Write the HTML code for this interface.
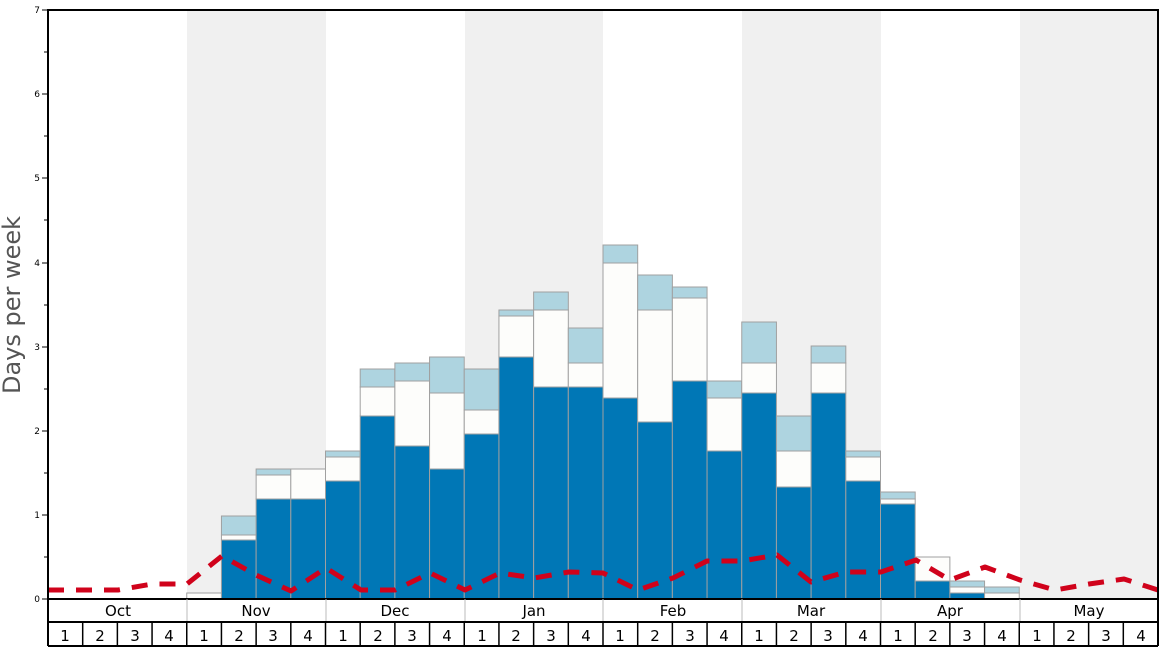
<!DOCTYPE html>
<html><head><meta charset="utf-8"><style>body{margin:0;background:#fff}svg{display:block;font-family:"DejaVu Sans","Liberation Sans",sans-serif}</style></head>
<body>
<svg id="s" width="1168" height="648" viewBox="0 0 1168 648" xmlns="http://www.w3.org/2000/svg">
<rect x="0" y="0" width="1168" height="648" fill="#fff"/>
<g fill="#f0f0f0">
<rect x="187" y="10" width="139" height="589"/><rect x="465" y="10" width="138" height="589"/>
<rect x="742" y="10" width="139" height="589"/><rect x="1020" y="10" width="138" height="589"/>
</g>
<g id="bars" stroke="#a0a0a0" stroke-width="1"></g>
<polyline fill="none" stroke="#d0021b" stroke-width="5" stroke-dasharray="16,12" stroke-linejoin="round"
points="48,590 83,590 118,590 152,584 187,584 222,556 256,575 291,591 326,568 361,590 395,590 430,573 465,590 500,573 534,578 569,572 603,573 638,590 673,578 707,561 742,561 777,555 811,582 846,572 881,572 916,560 950,580 985,567 1020,580 1055,590 1089,584 1124,579 1158,590"/>
<rect x="48" y="10" width="1110" height="589" fill="none" stroke="#000" stroke-width="2"/>
<g stroke="#000" stroke-width="1">
<line x1="42" y1="599" x2="48" y2="599"/><line x1="44" y1="557" x2="48" y2="557"/>
<line x1="42" y1="515" x2="48" y2="515"/><line x1="44" y1="473" x2="48" y2="473"/>
<line x1="42" y1="431" x2="48" y2="431"/><line x1="44" y1="389" x2="48" y2="389"/>
<line x1="42" y1="347" x2="48" y2="347"/><line x1="44" y1="305" x2="48" y2="305"/>
<line x1="42" y1="263" x2="48" y2="263"/><line x1="44" y1="220" x2="48" y2="220"/>
<line x1="42" y1="178" x2="48" y2="178"/><line x1="44" y1="136" x2="48" y2="136"/>
<line x1="42" y1="94" x2="48" y2="94"/><line x1="44" y1="52" x2="48" y2="52"/>
<line x1="42" y1="10" x2="48" y2="10"/>
</g>
<g font-size="9" text-anchor="end" fill="#000">
<text x="40" y="602">0</text><text x="40" y="518">1</text><text x="40" y="434">2</text>
<text x="40" y="350">3</text><text x="40" y="266">4</text><text x="40" y="181">5</text>
<text x="40" y="97">6</text><text x="40" y="13">7</text>
</g>
<text transform="translate(20,305) rotate(-90)" font-size="24" fill="#555" text-anchor="middle">Days per week</text>
<g stroke="#bbb" stroke-width="1">
<line x1="187" y1="599" x2="187" y2="622"/><line x1="326" y1="599" x2="326" y2="622"/>
<line x1="465" y1="599" x2="465" y2="622"/><line x1="603" y1="599" x2="603" y2="622"/>
<line x1="742" y1="599" x2="742" y2="622"/><line x1="881" y1="599" x2="881" y2="622"/>
<line x1="1020" y1="599" x2="1020" y2="622"/>
</g>
<g stroke="#000" stroke-width="2" fill="none">
<line x1="48" y1="599" x2="48" y2="646"/><line x1="1158" y1="599" x2="1158" y2="646"/>
<line x1="48" y1="622" x2="1158" y2="622"/><line x1="48" y1="646" x2="1158" y2="646"/>
</g>
<g id="wl" stroke="#000" stroke-width="1.5"></g>
<g font-size="15" text-anchor="middle" fill="#000">
<text x="118" y="616">Oct</text><text x="256" y="616">Nov</text><text x="395" y="616">Dec</text>
<text x="534" y="616">Jan</text><text x="673" y="616">Feb</text><text x="811" y="616">Mar</text>
<text x="950" y="616">Apr</text><text x="1089" y="616">May</text>
</g>
<g font-size="15" text-anchor="middle" fill="#000">
<text x="65" y="641">1</text><text x="100" y="641">2</text><text x="135" y="641">3</text><text x="169" y="641">4</text>
<text x="204" y="641">1</text><text x="239" y="641">2</text><text x="273" y="641">3</text><text x="308" y="641">4</text>
<text x="343" y="641">1</text><text x="378" y="641">2</text><text x="412" y="641">3</text><text x="447" y="641">4</text>
<text x="482" y="641">1</text><text x="516" y="641">2</text><text x="551" y="641">3</text><text x="586" y="641">4</text>
<text x="620" y="641">1</text><text x="655" y="641">2</text><text x="690" y="641">3</text><text x="724" y="641">4</text>
<text x="759" y="641">1</text><text x="794" y="641">2</text><text x="828" y="641">3</text><text x="863" y="641">4</text>
<text x="898" y="641">1</text><text x="933" y="641">2</text><text x="967" y="641">3</text><text x="1002" y="641">4</text>
<text x="1037" y="641">1</text><text x="1071" y="641">2</text><text x="1106" y="641">3</text><text x="1141" y="641">4</text>
</g>
<script>
var W=34.6875,ns="http://www.w3.org/2000/svg";
var d={4:[599,593,593],5:[540,535,516],6:[499,475,469],7:[499,469,469],8:[481,457,451],9:[416,387,369],10:[446,381,363],11:[469,393,357],
12:[434,410,369],13:[357,316,310],14:[387,310,292],15:[387,363,328],16:[398,263,245],17:[422,310,275],18:[381,298,287],19:[451,398,381],
20:[393,363,322],21:[487,451,416],22:[393,363,346],23:[481,457,451],24:[504,499,492],25:[581,557,557],26:[593,587,581],27:[599,593,587]};
var g=document.getElementById("bars");
function r(x,y1,y2,c){if(y2-y1<=0)return;var e=document.createElementNS(ns,"rect");e.setAttribute("x",x);e.setAttribute("y",y1);e.setAttribute("width",W);e.setAttribute("height",y2-y1);e.setAttribute("fill",c);g.appendChild(e);}
for(var i in d){var x=48+i*W,v=d[i];r(x,v[2],v[1],"#aed4e0");r(x,v[1],v[0],"#fdfdfb");r(x,v[0],599,"#0077b6");}
var wl=document.getElementById("wl");
for(var k=1;k<32;k++){var e=document.createElementNS(ns,"line"),x=48+k*W;e.setAttribute("x1",x);e.setAttribute("x2",x);e.setAttribute("y1",622);e.setAttribute("y2",646);wl.appendChild(e);}
</script>
</svg>
</body></html>
